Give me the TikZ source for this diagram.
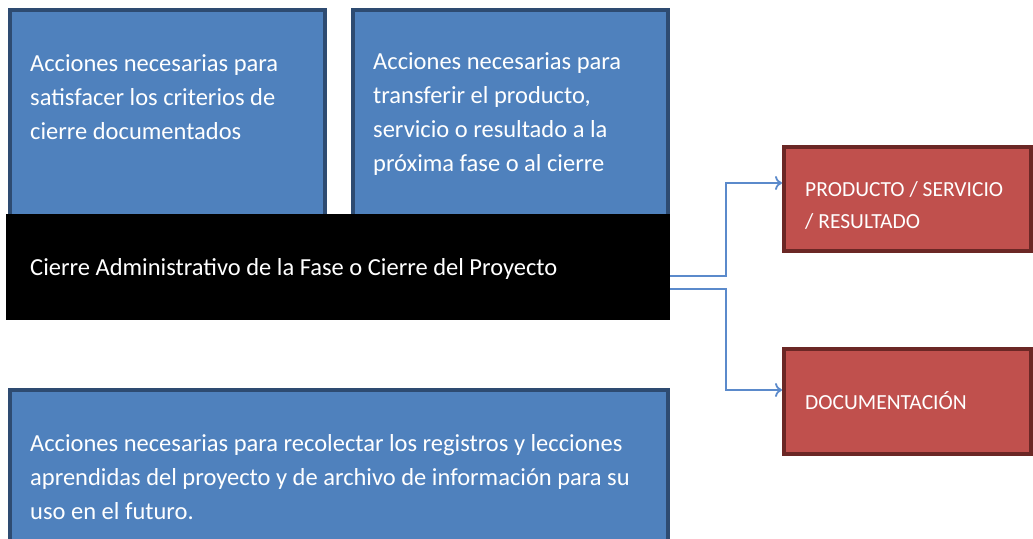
\documentclass[tikz,border=0pt]{standalone}
\usepackage{fontspec}
\setmainfont{Carlito}
\usetikzlibrary{arrows.meta}
\usetikzlibrary{positioning}
\definecolor{azul}{HTML}{4F81BD}
\definecolor{azulborde}{HTML}{2E4B71}
\definecolor{rojo}{HTML}{C0504D}
\definecolor{rojoborde}{HTML}{6B2725}
\definecolor{flecha}{HTML}{5B8ACB}
\tikzset{caja/.style = {draw = azulborde, fill = azul, line width = 4, inner sep = 0}}
\tikzset{cajaroja/.style = {draw = rojoborde, fill = rojo, line width = 4, inner sep = 0}}
\tikzset{texto/.style = {text = white, anchor = west, align = left, inner sep = 0,
    font = \fontsize{24.5}{34}\selectfont}}
\tikzset{textorojo/.style = {texto, font = \fontsize{21.5}{32}\selectfont}}
\tikzset{conector/.style = {draw = flecha, line width = 1.8, -{To[length = 7, width = 14]}}}

\begin{document}
\begin{tikzpicture}[x=1pt, y=-1pt]
      \useasboundingbox (0, 0) rectangle (1033, 538);
      \clip (0, 0) rectangle (1033, 538);

      \node [caja, minimum width = 315, minimum height = 220] at (167.5, 120) (cajaA) {};
      \node [caja, minimum width = 315, minimum height = 220] at (510.5, 120) (cajaB) {};
      \node [fill, inner sep = 0, minimum width = 664, minimum height = 106] at (338, 267) (barra) {};
      \node [caja, minimum width = 658, minimum height = 170] at (339, 475) (cajaC) {};
      \node [cajaroja, minimum width = 247, minimum height = 104] at (907.5, 199) (producto) {};
      \node [cajaroja, minimum width = 247, minimum height = 105] at (907.5, 401.5) (documentacion) {};

      \node [texto] at (30, 97) (textoA) {Acciones necesarias para\\satisfacer los criterios de\\cierre documentados};
      \node [texto] at (373, 114) (textoB) {Acciones necesarias para\\transferir el producto,\\servicio o resultado a la\\próxima fase o al cierre};
      \node [texto] at (30, 269) (textoBarra) {Cierre Administrativo de la Fase o Cierre del Proyecto};
      \node [texto] at (30, 477) (textoC) {Acciones necesarias para recolectar los registros y lecciones\\aprendidas del proyecto y de archivo de información para su\\uso en el futuro.};
      \node [textorojo] at (805, 205) (textoProducto) {PRODUCTO / SERVICIO\\/ RESULTADO};
      \node [textorojo] at (805, 401) (textoDoc) {DOCUMENTACIÓN};

      \coordinate (codo1) at (726, 183);
      \coordinate (codo2) at (726, 390);
      \draw [conector] ([yshift=-9pt]barra.east) -| (codo1) -- (producto.west |- codo1);
      \draw [conector] ([yshift=-22pt]barra.east) -| (codo2) -- (documentacion.west |- codo2);
    \end{tikzpicture}
\end{document}
